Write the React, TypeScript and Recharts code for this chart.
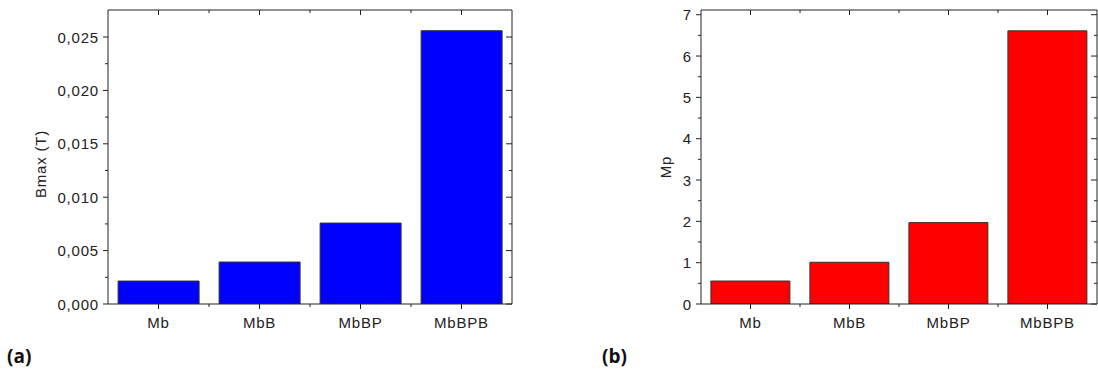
import React from "react";
import { BarChart, Bar, XAxis, YAxis } from "recharts";

const categories = ["Mb", "MbB", "MbBP", "MbBPB"];
const bmaxValues = [0.00215, 0.00393, 0.00758, 0.02559];
const mpValues = [0.556, 1.01, 1.97, 6.61];

const bmaxMajor = [0, 0.005, 0.01, 0.015, 0.02, 0.025];
const bmaxMinor = [0.0025, 0.0075, 0.0125, 0.0175, 0.0225];
const mpMajor = [0, 1, 2, 3, 4, 5, 6, 7];
const mpMinor = [0.5, 1.5, 2.5, 3.5, 4.5, 5.5, 6.5];

const bmaxData = categories.map((name, i) => ({ name, value: bmaxValues[i] }));
const mpData = categories.map((name, i) => ({ name, value: mpValues[i] }));

const INK = "#222";
const FONT = "Liberation Sans, Arial, sans-serif";
const CHART_H = 372;

interface PanelProps {
  left: number;
  width: number;
  plotLeft: number;
  plotRight: number;
  data: { name: string; value: number }[];
  domainMax: number;
  major: number[];
  minor: number[];
  format: (v: number) => string;
  fill: string;
  title: string;
  titleX: number;
  titleY: number;
  tag: string;
  tagX: number;
}

const Panel = (p: PanelProps) => {
  const band = (p.plotRight - p.plotLeft) / categories.length;
  const ticks = [...p.major, ...p.minor];
  const last = categories.length - 1;

  const leftTick = (t: any) => {
    const isMajor = p.major.includes(t.payload.value);
    return (
      <g>
        <line x1={t.x} x2={t.x - (isMajor ? 5 : 3)} y1={t.y} y2={t.y} stroke={INK} />
        {isMajor && (
          <text
            x={t.x - 9}
            y={t.y}
            textAnchor="end"
            dominantBaseline="central"
            fontSize={15}
            letterSpacing={0.8}
            fontFamily={FONT}
            fill={INK}
          >
            {p.format(t.payload.value)}
          </text>
        )}
      </g>
    );
  };

  const rightTick = (t: any) => {
    const isMajor = p.major.includes(t.payload.value);
    return <line x1={t.x} x2={t.x - (isMajor ? 6 : 3)} y1={t.y} y2={t.y} stroke={INK} />;
  };

  const bottomTick = (t: any) => (
    <g>
      <line x1={t.x} x2={t.x} y1={t.y} y2={t.y + 5} stroke={INK} />
      {t.index < last && (
        <line x1={t.x + band / 2} x2={t.x + band / 2} y1={t.y} y2={t.y + 3} stroke={INK} />
      )}
      <text
        x={t.x}
        y={t.y + 18}
        textAnchor="middle"
        dominantBaseline="central"
        fontSize={15}
        letterSpacing={0.8}
        fontFamily={FONT}
        fill={INK}
      >
        {t.payload.value}
      </text>
    </g>
  );

  const topTick = (t: any) => (
    <g>
      <line x1={t.x} x2={t.x} y1={t.y} y2={t.y + 5} stroke={INK} />
      {t.index < last && (
        <line x1={t.x + band / 2} x2={t.x + band / 2} y1={t.y} y2={t.y + 3} stroke={INK} />
      )}
    </g>
  );

  return (
    <div style={{ position: "absolute", left: p.left, top: 0, width: p.width, height: CHART_H }}>
      <BarChart
        width={p.width}
        height={CHART_H}
        data={p.data}
        margin={{ top: 9, right: p.width - p.plotRight - 1, bottom: 38, left: 0 }}
        barCategoryGap="10%"
      >
        <XAxis
          dataKey="name"
          height={30}
          axisLine={{ stroke: INK }}
          tickLine={false}
          tickSize={0}
          tickMargin={0}
          interval={0}
          tick={bottomTick}
        />
        <XAxis
          xAxisId="top"
          dataKey="name"
          orientation="top"
          height={1}
          axisLine={{ stroke: INK }}
          tickLine={false}
          tickSize={0}
          tickMargin={0}
          interval={0}
          tick={topTick}
        />
        <YAxis
          width={p.plotLeft}
          type="number"
          domain={[0, p.domainMax]}
          ticks={ticks}
          allowDataOverflow
          axisLine={{ stroke: INK }}
          tickLine={false}
          tickSize={0}
          tickMargin={0}
          interval={0}
          tick={leftTick}
        />
        <YAxis
          yAxisId="r"
          orientation="right"
          width={1}
          type="number"
          domain={[0, p.domainMax]}
          ticks={ticks}
          allowDataOverflow
          axisLine={{ stroke: INK }}
          tickLine={false}
          tickSize={0}
          tickMargin={0}
          interval={0}
          tick={rightTick}
        />
        <Bar dataKey="value" fill={p.fill} stroke="#333" strokeWidth={1} isAnimationActive={false} />
      </BarChart>
      <div
        style={{
          position: "absolute",
          left: p.titleX,
          top: p.titleY,
          transform: "translate(-50%, -50%) rotate(-90deg)",
          fontFamily: FONT,
          fontSize: 15,
          letterSpacing: 0.8,
          color: INK,
          whiteSpace: "nowrap",
        }}
      >
        {p.title}
      </div>
      <div
        style={{
          position: "absolute",
          left: p.tagX,
          top: 343,
          fontFamily: "Open Sans, sans-serif",
          fontWeight: 700,
          fontSize: 19,
          lineHeight: "26px",
          color: "#111",
        }}
      >
        {p.tag}
      </div>
    </div>
  );
};

const App = () => (
  <div style={{ position: "absolute", left: 0, top: 0, width: 1098, height: 372, background: "#fff" }}>
    <Panel
      left={0}
      width={540}
      plotLeft={108}
      plotRight={512}
      data={bmaxData}
      domainMax={0.02753}
      major={bmaxMajor}
      minor={bmaxMinor}
      format={(v) => v.toFixed(3).replace(".", ",")}
      fill="#0000ff"
      title="Bmax (T)"
      titleX={40}
      titleY={164}
      tag="(a)"
      tagX={7}
    />
    <Panel
      left={560}
      width={538}
      plotLeft={141}
      plotRight={537}
      data={mpData}
      domainMax={7.114}
      major={mpMajor}
      minor={mpMinor}
      format={(v) => String(v)}
      fill="#ff0000"
      title="Mp"
      titleX={105}
      titleY={167}
      tag="(b)"
      tagX={42}
    />
  </div>
);

export default App;
